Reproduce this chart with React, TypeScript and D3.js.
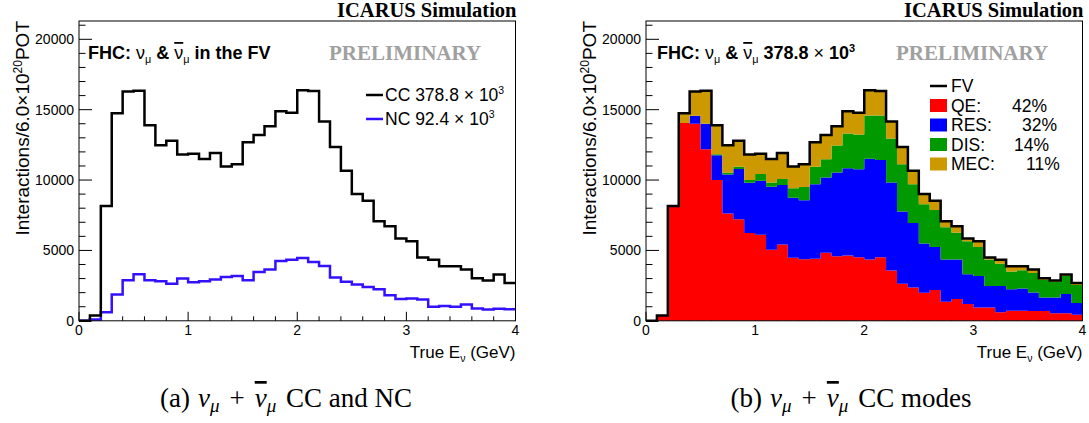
import React from 'react';
import * as d3 from 'd3';

// ---- data (40 bins of 0.1 GeV from 0 to 4 GeV) ----
const binWidth = 0.1;
const ccCounts = [0, 380, 8150, 14750, 16300, 16350, 13900, 12480, 12800, 11820, 11860, 11500, 11930, 10970, 11120, 12680, 13200, 13830, 14880, 14790, 16380, 16320, 14160, 12340, 10660, 9000, 8530, 7080, 6720, 5840, 5650, 4500, 4340, 3870, 3870, 3650, 3020, 2860, 3290, 2690];
const ncCounts = [0, 100, 600, 1870, 2880, 3300, 2880, 2810, 2640, 3000, 2740, 2810, 2930, 3120, 3190, 2880, 3470, 3640, 4250, 4340, 4460, 4180, 3900, 3070, 2770, 2580, 2410, 2250, 1820, 1540, 1590, 1520, 1000, 1050, 1000, 1160, 880, 810, 860, 820];
const qeCounts = [0, 380, 8150, 14050, 14000, 12190, 10000, 7620, 7210, 6240, 6120, 5050, 5420, 4480, 4380, 4400, 4830, 4590, 4640, 4520, 4360, 4520, 3580, 2640, 2360, 1990, 2180, 1350, 1540, 1190, 950, 950, 600, 720, 720, 690, 690, 530, 530, 430];
const resCounts = [0, 0, 0, 0, 570, 1810, 1760, 2780, 3580, 3570, 3830, 4470, 4230, 4270, 4190, 5310, 5350, 5940, 6200, 6250, 7160, 6910, 6240, 5130, 4590, 3510, 3060, 3010, 2820, 2110, 2240, 1530, 1880, 1530, 1580, 1320, 970, 1130, 1370, 830];
const disCounts = [0, 0, 0, 0, 0, 0, 70, 120, 160, 190, 480, 310, 420, 670, 930, 1240, 1290, 1930, 2470, 2470, 3060, 3150, 3140, 3350, 2760, 2780, 2640, 2290, 1890, 2360, 2050, 1880, 1580, 1260, 1290, 1390, 1230, 1110, 1290, 1290];
const mecCounts = [0, 0, 0, 700, 1730, 2350, 2070, 1960, 1850, 1820, 1430, 1670, 1860, 1550, 1620, 1730, 1730, 1370, 1570, 1550, 1800, 1740, 1200, 1220, 950, 720, 650, 430, 470, 180, 410, 140, 280, 360, 280, 250, 130, 90, 100, 140];

const xDomain = [0, 4];
const yDomain = [0, 21300];
const xMajorTicks = [0, 1, 2, 3, 4];
const yMajorTicks = [0, 5000, 10000, 15000, 20000];
const xMinorStep = 0.2;
const yMinorStep = 1000;

const modeKeys = ['qe', 'res', 'dis', 'mec'];
const modeLabels = ['QE:', 'RES:', 'DIS:', 'MEC:'];
const modePercents = ['42%', '32%', '14%', '11%'];
const modeColors = ['#ff0000', '#0000ff', '#009900', '#cc9900'];

const ccLabel = 'CC 378.8';
const ncLabel = 'NC 92.4';

// ---- layout ----
const W = 1089;
const H = 423;
const FRAME_W = 436.5;
const TOP = 21;
const BOTTOM = 320.8;
const PANEL_LEFTS = [79, 646];

const SANS = "'Liberation Sans', Arial, Helvetica, sans-serif";
const SERIF = "'Liberation Serif', 'Times New Roman', serif";

function stepPoints(vals: number[]) {
  const pts = vals.map((v, i) => [i * binWidth, v] as [number, number]);
  pts.push([vals.length * binWidth, vals[vals.length - 1]]);
  return pts;
}

function Frame({ x, y }: { x: d3.ScaleLinear<number, number>; y: d3.ScaleLinear<number, number> }) {
  const left = x(xDomain[0]);
  const xMinor = d3.range(xDomain[0], xDomain[1] + 1e-9, xMinorStep);
  const yMinor = d3.range(yDomain[0], yDomain[1], yMinorStep);
  return (
    <g stroke="#000" strokeWidth={1} fill="none">
      {yMinor.map((v) => (
        <line key={'ym' + v} x1={left} x2={left + (yMajorTicks.includes(v) ? 13 : 6.5)} y1={y(v)} y2={y(v)} />
      ))}
      {xMinor.map((v) => {
        const isMajor = xMajorTicks.some((t) => Math.abs(t - v) < 1e-6);
        return <line key={'xm' + v} x1={x(v)} x2={x(v)} y1={BOTTOM} y2={BOTTOM - (isMajor ? 9 : 4.5)} />;
      })}
    </g>
  );
}

function TickLabels({ x, y }: { x: d3.ScaleLinear<number, number>; y: d3.ScaleLinear<number, number> }) {
  const left = x(xDomain[0]);
  return (
    <g fontFamily={SANS} fontSize={14} fill="#000">
      {yMajorTicks.map((v) => (
        <text key={'yl' + v} x={left - 5} y={y(v) + 5} textAnchor="end">{v}</text>
      ))}
      {xMajorTicks.map((v) => (
        <text key={'xl' + v} x={x(v)} y={BOTTOM + 14} textAnchor="middle">{v}</text>
      ))}
    </g>
  );
}

function AxisTitles({ left }: { left: number }) {
  const right = left + FRAME_W;
  return (
    <g fontFamily={SANS} fill="#000">
      <text x={right} y={358} fontSize={17} textAnchor="end">
        True E<tspan fontSize={10.5} dy={4}>ν</tspan><tspan dy={-4}> (GeV)</tspan>
      </text>
      <text transform={`translate(${left - 50},${TOP}) rotate(-90)`} fontSize={19} textAnchor="end">
        Interactions/6.0×10<tspan fontSize={12} dy={-7}>20</tspan><tspan dy={7}>POT</tspan>
      </text>
    </g>
  );
}

function NuMu({ bar }: { bar?: boolean }) {
  return (
    <>
      <tspan fontWeight="normal" textDecoration={bar ? 'overline' : undefined}>ν</tspan>
      <tspan fontWeight="normal" fontSize="0.6em" dy={4}>μ</tspan>
      <tspan dy={-4}> </tspan>
    </>
  );
}

function Header({ left, children }: { left: number; children: React.ReactNode }) {
  const right = left + FRAME_W;
  return (
    <g>
      <text x={right + 1} y={17} fontFamily={SERIF} fontWeight="bold" fontSize={20.5} textAnchor="end" fill="#000">ICARUS Simulation</text>
      <text x={left + 250} y={60} fontFamily={SERIF} fontWeight="bold" fontSize={21} fill="#a0a0a0">PRELIMINARY</text>
      {children}
    </g>
  );
}

function PanelA() {
  const left = PANEL_LEFTS[0];
  const x = d3.scaleLinear().domain(xDomain).range([left, left + FRAME_W]);
  const y = d3.scaleLinear().domain(yDomain).range([BOTTOM, TOP]);
  const line = d3.line<[number, number]>().x((d) => x(d[0])).y((d) => y(d[1])).curve(d3.curveStepAfter);
  return (
    <g>
      <Frame x={x} y={y} />
      <path d={line(stepPoints(ncCounts)) || ''} fill="none" stroke="#3311ff" strokeWidth={2.5} />
      <path d={line(stepPoints(ccCounts)) || ''} fill="none" stroke="#000" strokeWidth={2.5} />
      <rect x={left} y={TOP} width={FRAME_W} height={BOTTOM - TOP} fill="none" stroke="#000" strokeWidth={1} />
      <TickLabels x={x} y={y} />
      <AxisTitles left={left} />
      <Header left={left}>
        <text x={left + 9} y={59} fontFamily={SANS} fontWeight="bold" fontSize={18} fill="#000">
          FHC: <NuMu />&amp; <NuMu bar />in the FV
        </text>
      </Header>
      <g fontFamily={SANS} fontSize={17.5} fill="#000">
        <line x1={left + 287} x2={left + 304} y1={95} y2={95} stroke="#000" strokeWidth={2.5} />
        <text x={left + 306} y={101}>
          {ccLabel} × 10<tspan fontSize={10.5} dy={-7}>3</tspan>
        </text>
        <line x1={left + 287} x2={left + 304} y1={119} y2={119} stroke="#3311ff" strokeWidth={2.5} />
        <text x={left + 306} y={125}>
          {ncLabel} × 10<tspan fontSize={10.5} dy={-7}>3</tspan>
        </text>
      </g>
    </g>
  );
}

function PanelB() {
  const left = PANEL_LEFTS[1];
  const x = d3.scaleLinear().domain(xDomain).range([left, left + FRAME_W]);
  const y = d3.scaleLinear().domain(yDomain).range([BOTTOM, TOP]);
  const line = d3.line<[number, number]>().x((d) => x(d[0])).y((d) => y(d[1])).curve(d3.curveStepAfter);
  const rows: any[] = qeCounts.map((_, i) => ({
    e: i * binWidth, qe: qeCounts[i], res: resCounts[i], dis: disCounts[i], mec: mecCounts[i],
  }));
  const last = rows[rows.length - 1];
  rows.push({ ...last, e: rows.length * binWidth });
  const series = d3.stack().keys(modeKeys)(rows);
  const area = d3.area<any>().x((d) => x(d.data.e)).y0((d) => y(d[0])).y1((d) => y(d[1])).curve(d3.curveStepAfter);
  return (
    <g>
      <Frame x={x} y={y} />
      {series.map((s, i) => (
        <path key={modeKeys[i]} d={area(s as any) || ''} fill={modeColors[i]} stroke="none" />
      ))}
      <path d={line(stepPoints(ccCounts)) || ''} fill="none" stroke="#000" strokeWidth={2.5} />
      <rect x={left} y={TOP} width={FRAME_W} height={BOTTOM - TOP} fill="none" stroke="#000" strokeWidth={1} />
      <TickLabels x={x} y={y} />
      <AxisTitles left={left} />
      <Header left={left}>
        <text x={left + 11} y={59} fontFamily={SANS} fontWeight="bold" fontSize={18} fill="#000">
          FHC: <NuMu />&amp; <NuMu bar />378.8 <tspan fontWeight="normal">×</tspan> 10<tspan fontSize={11} dy={-7}>3</tspan>
        </text>
      </Header>
      <g fontFamily={SANS} fontSize={17.5} fill="#000">
        <line x1={left + 284} x2={left + 301} y1={86} y2={86} stroke="#000" strokeWidth={2.5} />
        <text x={left + 305} y={92}>FV</text>
        {modeLabels.map((lab, i) => {
          const cy = 105.5 + i * 19.5;
          const pctX = [1012, 1022, 1014, 1026][i];
          return (
            <g key={lab}>
              <rect x={left + 284} y={cy - 6.5} width={17} height={13} fill={modeColors[i]} />
              <text x={left + 305} y={cy + 6}>{lab}</text>
              <text x={pctX} y={cy + 6}>{modePercents[i]}</text>
            </g>
          );
        })}
      </g>
    </g>
  );
}

function Caption({ cx, tag, tail }: { cx: number; tag: string; tail: string }) {
  return (
    <text x={cx} y={407} textAnchor="middle" fontFamily={SERIF} fontSize={27} fill="#000">
      {tag}<tspan dx={8} fontStyle="italic">ν</tspan><tspan fontStyle="italic" fontSize={19} dy={5}>μ</tspan>
      <tspan dy={-5} dx={10}>+</tspan>
      <tspan dx={10} fontStyle="italic" textDecoration="overline">ν</tspan><tspan fontStyle="italic" fontSize={19} dy={5}>μ</tspan>
      <tspan dy={-5} dx={3}> {tail}</tspan>
    </text>
  );
}

export default function App() {
  return (
    <svg width={W} height={H} viewBox={`0 0 ${W} ${H}`} style={{ position: 'absolute', left: 0, top: 0, background: '#fff' }}>
      <rect x={0} y={0} width={W} height={H} fill="#fff" />
      <PanelA />
      <PanelB />
      <Caption cx={286} tag="(a)" tail="CC and NC" />
      <Caption cx={851} tag="(b)" tail="CC modes" />
    </svg>
  );
}
